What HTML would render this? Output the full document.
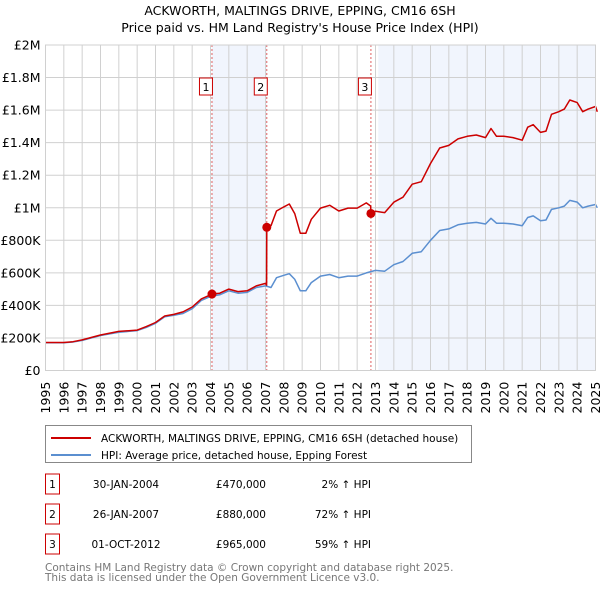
<!DOCTYPE html>
<html><head><meta charset="utf-8"><style>
body{margin:0;background:#fff;font-family:"Liberation Sans","DejaVu Sans",sans-serif;}
svg text{font-family:"DejaVu Sans","Liberation Sans",sans-serif;}
</style></head><body>
<svg id="c" width="600" height="590" xmlns="http://www.w3.org/2000/svg">
<text x="300" y="15" text-anchor="middle" font-size="12.5" fill="#000">ACKWORTH, MALTINGS DRIVE, EPPING, CM16 6SH</text>
<text x="300" y="32" text-anchor="middle" font-size="12.5" fill="#000">Price paid vs. HM Land Registry's House Price Index (HPI)</text>
<g id="plot"></g>
<rect x="45.5" y="425.5" width="426" height="37" fill="#fff" stroke="#888"/>
<line x1="51" y1="438" x2="91" y2="438" stroke="#cc0000" stroke-width="2"/>
<text x="101" y="442" font-size="10.5">ACKWORTH, MALTINGS DRIVE, EPPING, CM16 6SH (detached house)</text>
<line x1="51" y1="455" x2="91" y2="455" stroke="#5b8fd0" stroke-width="2"/>
<text x="101" y="459" font-size="10.5">HPI: Average price, detached house, Epping Forest</text>
<g id="tbl"></g>
<text x="45" y="571" font-size="10.5" fill="#777">Contains HM Land Registry data © Crown copyright and database right 2025.</text>
<text x="45" y="581" font-size="10.5" fill="#777">This data is licensed under the Open Government Licence v3.0.</text>
</svg>
<script>
const hpiDates=[1995,1996,1996.5,1997,1998,1999,2000,2000.5,2001,2001.5,2002,2002.5,2003,2003.5,2004,2004.5,2005,2005.5,2006,2006.5,2007,2007.3,2007.6,2008,2008.3,2008.6,2008.9,2009.2,2009.5,2010,2010.5,2011,2011.5,2012,2012.5,2013,2013.5,2014,2014.5,2015,2015.5,2016,2016.5,2017,2017.5,2018,2018.5,2019,2019.3,2019.6,2020,2020.5,2021,2021.3,2021.6,2022,2022.3,2022.6,2023,2023.3,2023.6,2024,2024.3,2024.6,2025,2025.1];
const hpiValues=[170,170,175,185,215,235,245,265,290,330,340,350,380,430,455,465,490,475,480,510,520,510,570,585,595,560,490,490,540,580,590,570,580,580,600,615,610,650,670,720,730,800,860,870,895,905,910,900,935,905,905,900,890,940,950,920,925,990,1000,1010,1045,1035,1000,1010,1020,1000];
const redDates=[1995,1996,1996.5,1997,1998,1999,2000,2000.5,2001,2001.5,2002,2002.5,2003,2003.5,2004,2004.08,2004.5,2005,2005.5,2006,2006.5,2007,2007.06,2007.07,2007.3,2007.6,2008,2008.3,2008.6,2008.9,2009.2,2009.5,2010,2010.5,2011,2011.5,2012,2012.5,2012.74,2012.75,2013,2013.5,2014,2014.5,2015,2015.5,2016,2016.5,2017,2017.5,2018,2018.5,2019,2019.3,2019.6,2020,2020.5,2021,2021.3,2021.6,2022,2022.3,2022.6,2023,2023.3,2023.6,2024,2024.3,2024.6,2025,2025.1];
const redValues=[172,172,177,188,218,240,248,270,295,335,345,360,390,440,465,470,475,500,485,490,520,535,525,880,890,980,1005,1023,963,843,843,929,998,1015,980,998,998,1030,1010,965,978,970,1034,1065,1145,1160,1272,1367,1383,1423,1439,1447,1431,1487,1439,1439,1431,1415,1495,1510,1463,1471,1574,1590,1606,1662,1646,1590,1606,1622,1590];
const saleNums=["1","2","3"];
const saleDates=[2004.08,2007.07,2012.75];
const saleValues=[470,880,965];
const saleDateLabels=["30-JAN-2004","26-JAN-2007","01-OCT-2012"];
const salePriceLabels=["£470,000","£880,000","£965,000"];
const salePctLabels=["2% ↑ HPI","72% ↑ HPI","59% ↑ HPI"];
const yTicks=[0,200,400,600,800,1000,1200,1400,1600,1800,2000];
const yTickLabels=["£0","£200K","£400K","£600K","£800K","£1M","£1.2M","£1.4M","£1.6M","£1.8M","£2M"];
const years=[];for(let y=1995;y<=2025;y++)years.push(y);

const L=45.5,R=595.5,T=45,B=370.5;
const X=v=>L+(v-1995)/30*(R-L);
const Y=v=>B-v/2000*(B-T);
const NS="http://www.w3.org/2000/svg";
const g=document.getElementById('plot');
function mk(t,a,p){const e=document.createElementNS(NS,t);for(const k in a)e.setAttribute(k,a[k]);(p||g).appendChild(e);return e;}

let e=mk('rect',{x:X(saleDates[0]),y:T,width:X(saleDates[1])-X(saleDates[0]),height:B-T,fill:'#eef3fc',opacity:0.8});


e=mk('rect',{x:X(2013.15),y:T,width:R-X(2013.15),height:B-T,fill:'#eef3fc',opacity:0.8});



yTicks.forEach((v,i)=>{
  let l=mk('line',{x1:L,x2:R,y1:Y(v),y2:Y(v),stroke:'#d0d0d0','stroke-width':1});
  
  
  let t=mk('text',{x:L-5,y:Y(v)+4.5,'text-anchor':'end','font-size':12.5});
  t.textContent=yTickLabels[i];
  
  
});
years.forEach(y=>{
  let l=mk('line',{x1:X(y),x2:X(y),y1:T,y2:B,stroke:'#d0d0d0','stroke-width':1});
  
  
  let t=mk('text',{transform:`translate(${X(y)+4.5},${B+43}) rotate(-90)`,'font-size':12.5});
  t.textContent=y;
  
  
});
saleDates.forEach((d,i)=>{
  let l=mk('line',{x1:X(d),x2:X(d),y1:T,y2:B,stroke:'#e06060','stroke-width':1,'stroke-dasharray':'2,2'});
  
  
});
function path(ds,vs,col,name){
  let p=mk('path',{d:ds.map((d,i)=>(i?'L':'M')+X(d).toFixed(1)+','+Y(vs[i]).toFixed(1)).join(''),fill:'none',stroke:col,'stroke-width':1.5,'stroke-linejoin':'round'});
  
  
}
path(hpiDates,hpiValues,'#5b8fd0','hpi-line');
path(redDates,redValues,'#cc0000','property-price-line');
saleDates.forEach((d,i)=>{
  let c=mk('circle',{cx:X(d),cy:Y(saleValues[i]),r:4.5,fill:'#cc0000'});
  
  
  let bx=mk('rect',{x:X(d)-12.5,y:78,width:13,height:17,fill:'#fff',stroke:'#cc0000'});
  
  
  let t=mk('text',{x:X(d)-6,y:91,'text-anchor':'middle','font-size':11});
  t.textContent=saleNums[i];
  
  
});
let fr=mk('rect',{x:L,y:T,width:R-L,height:B-T,fill:'none',stroke:'#d0d0d0'});



const tb=document.getElementById('tbl');
saleNums.forEach((n,i)=>{
  const cy=484+i*30;
  let r=mk('rect',{x:45.5,y:cy-10,width:14,height:20,fill:'#fff',stroke:'#cc0000'},tb);
  
  
  const cells=[[52.5,'middle',n,'table-row-number'],[126,'middle',saleDateLabels[i],'table-row-date'],[266,'end',salePriceLabels[i],'table-row-price'],[371,'end',salePctLabels[i],'table-row-hpi-change']];
  cells.forEach(c=>{
    let t=mk('text',{x:c[0],y:cy+4,'text-anchor':c[1],'font-size':10.5},tb);
    t.textContent=c[2];
    
    
  });
});
</script>
</body></html>
